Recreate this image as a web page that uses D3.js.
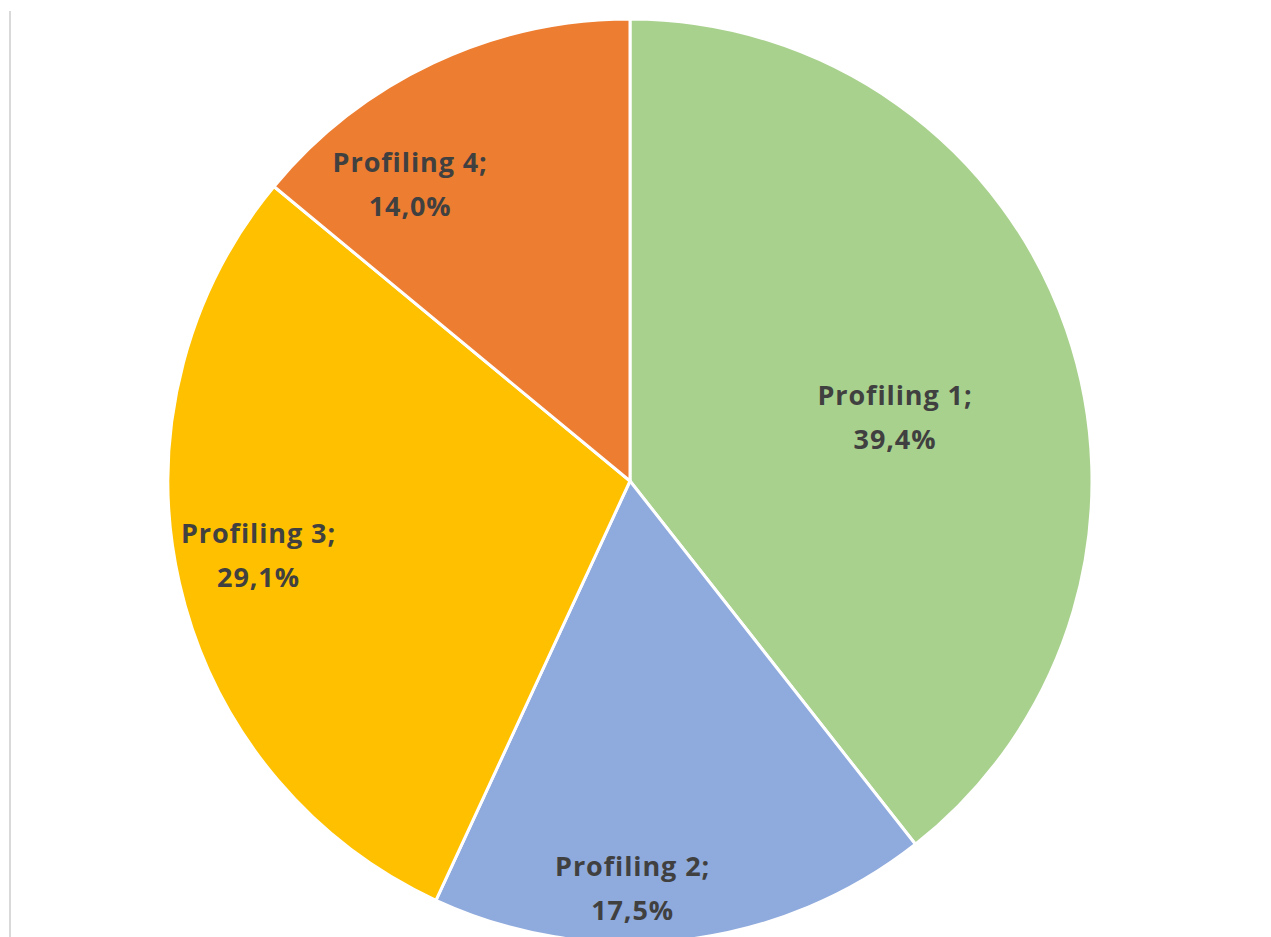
<!DOCTYPE html>
<html>
<head>
<meta charset="utf-8">
<script src="https://cdn.jsdelivr.net/npm/d3@7"></script>
<style>
  body { margin: 0; background: #fff; }
  svg { display: block; }
</style>
</head>
<body>
<div id="chart"></div>
<script>
// Data
const categories = ["Profiling 1", "Profiling 2", "Profiling 3", "Profiling 4"];
const shares = [39.4, 17.5, 29.1, 14.0];
const colors = ["#a9d18e", "#8faadc", "#ffc000", "#ed7d31"];

// Layout
const width = 1271, height = 937;
const cx = 630, cy = 481, radius = 462;
// where each label sits, as a fraction of the radius and a nudge of angle (deg)
const labelR = [0.59, 0.88, 0.82, 0.80];
const labelTurn = [5.5, 6.3, 1.5, -11.3];

const svg = d3.select("#chart").append("svg")
    .attr("width", width)
    .attr("height", height);

// thin grey rule at the left edge
svg.append("line")
    .attr("x1", 10).attr("x2", 10)
    .attr("y1", 11).attr("y2", height)
    .attr("stroke", "#d9d9d9")
    .attr("stroke-width", 2);

const pie = d3.pie().sort(null).value(d => d.value);
const arcs = pie(categories.map((c, i) => ({ name: c, value: shares[i], i: i })));

const arc = d3.arc().innerRadius(0).outerRadius(radius);

const g = svg.append("g").attr("transform", `translate(${cx},${cy})`);

g.selectAll("path")
    .data(arcs)
    .join("path")
    .attr("d", arc)
    .attr("fill", d => colors[d.data.i])
    .attr("stroke", "#fff")
    .attr("stroke-width", 3)
    .attr("stroke-linejoin", "round");

const fmt = v => v.toFixed(1).replace(".", ",") + "%";

const label = g.selectAll("text")
    .data(arcs)
    .join("text")
    .attr("font-family", "'Open Sans', sans-serif")
    .attr("font-weight", "bold")
    .attr("font-size", 27)
    .attr("letter-spacing", 0.9)
    .attr("fill", "#404040")
    .attr("text-anchor", "middle")
    .attr("transform", function(d) {
        const a = (d.startAngle + d.endAngle) / 2 + labelTurn[d.data.i] * Math.PI / 180;
        const r = radius * labelR[d.data.i];
        return `translate(${r * Math.sin(a)},${-r * Math.cos(a)})`;
    });

label.append("tspan")
    .attr("x", 0)
    .attr("y", -12)
    .text(d => d.data.name + ";");

label.append("tspan")
    .attr("x", 0)
    .attr("y", 32)
    .text(d => fmt(d.data.value));
</script>
</body>
</html>
